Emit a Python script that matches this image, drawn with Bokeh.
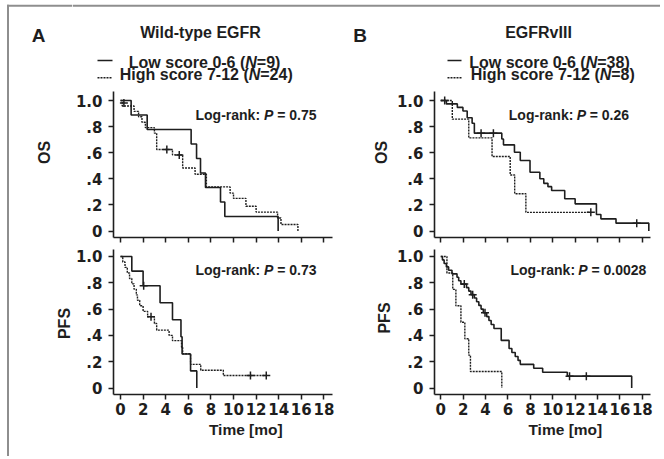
import math
from bokeh.plotting import figure
from bokeh.models import Range1d, FixedTicker, CustomJSTickFormatter, Label
from bokeh.layouts import column, row
from bokeh.embed import file_html
from bokeh.resources import INLINE
from bokeh.core.properties import value

# ---------------- data ----------------
x_ticks = [0, 2, 4, 6, 8, 10, 12, 14, 16, 18]
y_ticks = [0, 0.2, 0.4, 0.6, 0.8, 1.0]

panel_letters = ["A", "B"]
panel_titles = ["Wild-type EGFR", "EGFRvIII"]
legend_low_prefix = "Low score 0-6 ("
legend_high_prefix = "High score 7-12 ("
legend_low_n = ["=9)", "=38)"]
legend_high_n = ["=24)", "=8)"]
p_values_os = ["= 0.75", "= 0.26"]
p_values_pfs = ["= 0.73", "= 0.0028"]
ylabels = ["OS", "PFS"]
xlabel = "Time [mo]"

# Wild-type EGFR, OS
a_os_low_t = [0, 0.94, 2.36, 6.25, 6.73, 7.08, 7.52, 8.85, 9.23, 13.95]
a_os_low_s = [1.0, 0.889, 0.778, 0.667, 0.556, 0.444, 0.333, 0.222, 0.111, 0.0]
a_os_low_ct, a_os_low_cs = [], []
a_os_high_t = [0, 0.15, 1.2, 1.6, 1.9, 2.2, 3.0, 3.2, 4.6, 5.5, 6.6, 7.6, 9.7, 10.0, 11.1, 12.0, 13.9, 14.2, 15.7]
a_os_high_s = [1.0, 0.958, 0.917, 0.875, 0.833, 0.792, 0.75, 0.625, 0.583, 0.483, 0.435, 0.338, 0.29, 0.25, 0.19, 0.145, 0.10, 0.05, 0.0]
a_os_high_ct = [0.3, 4.1, 5.2]
a_os_high_cs = [0.98, 0.625, 0.583]

# Wild-type EGFR, PFS
a_pfs_low_t = [0, 1.0, 2.0, 3.5, 4.6, 5.35, 5.45, 6.2, 6.75]
a_pfs_low_s = [1.0, 0.889, 0.778, 0.648, 0.519, 0.39, 0.259, 0.13, 0.0]
a_pfs_low_ct = [2.05]
a_pfs_low_cs = [0.778]
a_pfs_high_t = [0, 0.2, 0.4, 0.6, 0.8, 1.0, 1.2, 1.4, 1.5, 1.7, 2.0, 2.4, 3.0, 3.2, 4.3, 4.6, 5.4, 5.5, 6.2, 7.1, 9.1, 12.9]
a_pfs_high_s = [1.0, 0.958, 0.917, 0.875, 0.833, 0.792, 0.75, 0.708, 0.667, 0.625, 0.583, 0.542, 0.49, 0.44, 0.40, 0.36, 0.31, 0.26, 0.18, 0.135, 0.095, 0.095]
a_pfs_high_ct = [2.7, 11.5, 12.9]
a_pfs_high_cs = [0.542, 0.095, 0.095]

# EGFRvIII, OS
b_os_low_t = [0, 0.5, 1.48, 1.98, 2.36, 2.8, 3.0, 5.45, 5.6, 6.58, 7.1, 7.97, 8.85, 9.2, 9.57, 9.9, 11.07, 12.0, 13.9, 14.3, 15.65, 18.58]
b_os_low_s = [1.0, 0.974, 0.947, 0.92, 0.868, 0.826, 0.75, 0.705, 0.66, 0.604, 0.54, 0.45, 0.40, 0.365, 0.34, 0.31, 0.247, 0.208, 0.126, 0.093, 0.06, 0.0]
b_os_low_ct = [0.35, 3.6, 4.7, 17.5]
b_os_low_cs = [1.0, 0.75, 0.75, 0.06]
b_os_high_t = [0, 1.03, 2.5, 4.58, 6.2, 6.6, 7.6, 13.4]
b_os_high_s = [1.0, 0.857, 0.714, 0.571, 0.429, 0.286, 0.143, 0.143]
b_os_high_ct = [13.4]
b_os_high_cs = [0.143]

# EGFRvIII, PFS
b_pfs_low_t = [0, 0.15, 0.3, 0.5, 0.7, 1.0, 1.45, 1.6, 1.8, 2.3, 2.5, 2.7, 3.0, 3.2, 3.4, 3.6, 3.8, 4.1, 4.3, 4.5, 4.75, 5.4, 6.1, 6.35, 6.65, 6.9, 7.1, 8.3, 9.1, 11.3, 17.05]
b_pfs_low_s = [1.0, 0.974, 0.947, 0.921, 0.895, 0.868, 0.842, 0.816, 0.79, 0.763, 0.737, 0.71, 0.684, 0.656, 0.628, 0.60, 0.572, 0.543, 0.513, 0.483, 0.453, 0.362, 0.30, 0.27, 0.24, 0.21, 0.18, 0.15, 0.12, 0.09, 0.0]
b_pfs_low_ct = [2.1, 2.85, 3.95, 11.5, 13.0]
b_pfs_low_cs = [0.79, 0.71, 0.572, 0.09, 0.09]
b_pfs_high_t = [0, 0.55, 1.07, 1.35, 1.8, 2.15, 2.5, 2.65, 5.45]
b_pfs_high_s = [1.0, 0.875, 0.75, 0.625, 0.5, 0.375, 0.25, 0.125, 0.0]
b_pfs_high_ct, b_pfs_high_cs = [], []

# ---------------- style ----------------
INK = "#1e1e1e"
GRAY = "#8e8e8e"
SANS = "Liberation Sans"
TICKFONT = "DejaVu Sans"
DOT = "2 1"
# Arial-bold em widths used to place the italic pieces
EM = {"Low score 0-6 (": 7.281, "High score 7-12 (": 8.058, "N": 0.722,
      "Log-rank: ": 4.889, "P ": 0.945}

OS_YR = (-0.0498, 1.069)
PFS_YR = (-0.0494, 1.0532)
A_XR = (-0.62, 18.76)
B_XR = (-0.56, 18.73)

# page-pixel layout (page origin = top-left of the window)
PAGE_W, PAGE_H = 660, 456
LEFT_W = 72
HDR_H = 86
OS_H = 161
PFS_H = 173
COLA_X0, COLA_X1 = 72, 338
MID_X0, MID_X1 = 338, 393
COLB_X0, COLB_X1 = 393, 660

A_OS_FR = (113, 332, 91, 237)
A_PFS_FR = (113, 332, 249, 394)
B_OS_FR = (432, 650, 91, 237)
B_PFS_FR = (432, 650, 249, 394)


def strip(x0, x1, y0, y1):
    f = figure(width=int(x1 - x0), height=int(y1 - y0), x_range=Range1d(x0, x1),
               y_range=Range1d(y1, y0), output_backend="svg", toolbar_location=None,
               tools="", x_axis_type=None, y_axis_type=None, min_border=0)
    f.outline_line_color = None
    f.background_fill_color = "white"
    return f


def panel(x0, x1, y0, y1, frame, xr, yr, xlabels):
    left, right, top, bottom = frame
    p = figure(width=x1 - x0, height=y1 - y0, x_range=Range1d(*xr), y_range=Range1d(*yr),
               output_backend="svg", toolbar_location=None, tools="",
               min_border_left=left - x0, min_border_right=x1 - right,
               min_border_top=top - y0, min_border_bottom=y1 - bottom)
    p.outline_line_color = None
    p.grid.visible = False
    for ax in (p.xaxis[0], p.yaxis[0]):
        ax.axis_line_width = 1.6
        ax.axis_line_color = INK
        ax.major_tick_line_width = 1.5
        ax.major_tick_line_color = INK
        ax.major_tick_out = 5
        ax.major_tick_in = 0
        ax.minor_tick_line_color = None
        ax.major_label_text_font = TICKFONT
        ax.major_label_text_font_style = "bold"
        ax.major_label_text_font_size = "15px"
        ax.major_label_text_color = INK
    p.xaxis.ticker = FixedTicker(ticks=x_ticks)
    p.yaxis.ticker = FixedTicker(ticks=y_ticks)
    p.yaxis.major_label_standoff = 6
    p.yaxis.formatter = CustomJSTickFormatter(code="""
        if (Math.abs(tick) < 1e-9) return "0";
        if (Math.abs(tick - 1) < 1e-9) return "1.0";
        return "." + Math.round(tick * 10);
    """)
    if xlabels:
        p.xaxis.major_label_standoff = 3
    else:
        p.xaxis.major_label_standoff = 0
        p.xaxis.major_label_text_font_size = "0px"
        p.xaxis.formatter = CustomJSTickFormatter(code="return '';")
    return p


def curves(p, lt, ls, lct, lcs, ht, hs, hct, hcs):
    p.step(lt, ls, mode="after", line_color=INK, line_width=1.6)
    p.step(ht, hs, mode="after", line_color=INK, line_width=1.4, line_dash=DOT)
    if lct:
        p.scatter(lct, lcs, marker="cross", size=8, line_color=INK, line_width=1.5)
    if hct:
        p.scatter(hct, hcs, marker="cross", size=8, line_color=INK, line_width=1.5)


def mapper(frame, xr, yr):
    left, right, top, bottom = frame

    def f(px, py):
        x = xr[0] + (px - left) / (right - left) * (xr[1] - xr[0])
        y = yr[1] - (py - top) / (bottom - top) * (yr[1] - yr[0])
        return x, y
    return f


def logrank(p, m, px, py, pval):
    fs = 14
    x0, y0 = m(px, py)
    x1, _ = m(px + EM["Log-rank: "] * fs, py)
    x2, _ = m(px + (EM["Log-rank: "] + EM["P "]) * fs, py)
    for x, t, st in ((x0, "Log-rank:", "bold"), (x1, "P", "bold italic"), (x2, pval, "bold")):
        p.add_layout(Label(x=x, y=y0, text=t, text_font=SANS, text_font_style=st,
                           text_font_size=f"{fs}px", text_color=INK,
                           text_align="left", text_baseline="middle"))


def txt(f, x, y, t, size, style="bold", align="left", angle=0.0):
    f.text(x=[x], y=[y], text=[t], angle=angle, text_font=value(SANS), text_font_style=style,
           text_font_size=size, text_color=INK, text_align=align, text_baseline="middle")


# ---------------- panels ----------------
a_os = panel(COLA_X0, COLA_X1, HDR_H, HDR_H + OS_H, A_OS_FR, A_XR, OS_YR, False)
a_pfs = panel(COLA_X0, COLA_X1, HDR_H + OS_H, HDR_H + OS_H + PFS_H, A_PFS_FR, A_XR, PFS_YR, True)
b_os = panel(COLB_X0, COLB_X1, HDR_H, HDR_H + OS_H, B_OS_FR, B_XR, OS_YR, False)
b_pfs = panel(COLB_X0, COLB_X1, HDR_H + OS_H, HDR_H + OS_H + PFS_H, B_PFS_FR, B_XR, PFS_YR, True)

curves(a_os, a_os_low_t, a_os_low_s, a_os_low_ct, a_os_low_cs,
       a_os_high_t, a_os_high_s, a_os_high_ct, a_os_high_cs)
curves(a_pfs, a_pfs_low_t, a_pfs_low_s, a_pfs_low_ct, a_pfs_low_cs,
       a_pfs_high_t, a_pfs_high_s, a_pfs_high_ct, a_pfs_high_cs)
curves(b_os, b_os_low_t, b_os_low_s, b_os_low_ct, b_os_low_cs,
       b_os_high_t, b_os_high_s, b_os_high_ct, b_os_high_cs)
curves(b_pfs, b_pfs_low_t, b_pfs_low_s, b_pfs_low_ct, b_pfs_low_cs,
       b_pfs_high_t, b_pfs_high_s, b_pfs_high_ct, b_pfs_high_cs)

logrank(a_os, mapper(A_OS_FR, A_XR, OS_YR), 195, 114.5, p_values_os[0])
logrank(b_os, mapper(B_OS_FR, B_XR, OS_YR), 507, 114.5, p_values_os[1])
logrank(a_pfs, mapper(A_PFS_FR, A_XR, PFS_YR), 195, 269, p_values_pfs[0])
logrank(b_pfs, mapper(B_PFS_FR, B_XR, PFS_YR), 508.7, 269, p_values_pfs[1])

# ---------------- strips (page-pixel coordinates) ----------------
left = strip(0, LEFT_W, 0, PAGE_H)
left.segment(x0=[7.5], y0=[4.3], x1=[7.5], y1=[PAGE_H], line_color=GRAY, line_width=2)
left.segment(x0=[6.5], y0=[5.3], x1=[LEFT_W], y1=[5.3], line_color=GRAY, line_width=2)
txt(left, 38, 35, panel_letters[0], "19px", align="center")
txt(left, 43.7, 152, ylabels[0], "16px", align="center", angle=math.pi / 2)
txt(left, 64, 323, ylabels[1], "16px", align="center", angle=math.pi / 2)

hdr = strip(LEFT_W, PAGE_W, 0, HDR_H)
hdr.segment(x0=[LEFT_W], y0=[5.3], x1=[PAGE_W], y1=[5.3], line_color=GRAY, line_width=2)
txt(hdr, 359.5, 34.6, panel_letters[1], "19px", align="center")
txt(hdr, 200, 31.5, panel_titles[0], "16px", align="center")
txt(hdr, 538, 31.5, panel_titles[1], "16px", align="center")
hdr.segment(x0=[97, 447], y0=[60, 60], x1=[112, 461], y1=[60, 60], line_color=INK, line_width=1.6)
hdr.segment(x0=[97, 447], y0=[77.3, 77.3], x1=[112, 461], y1=[77.3, 77.3], line_color=INK,
            line_width=1.4, line_dash=DOT)
FS = 16
for i, (lx_low, lx_high) in enumerate([(128.3, 119.3), (468.7, 470.3)]):
    for lft, mid_y, prefix, tail in ((lx_low, 62, legend_low_prefix, legend_low_n[i]),
                                     (lx_high, 74, legend_high_prefix, legend_high_n[i])):
        xn = lft + EM[prefix] * FS
        xt = xn + EM["N"] * FS
        txt(hdr, lft, mid_y, prefix, f"{FS}px")
        txt(hdr, xn, mid_y, "N", f"{FS}px", style="bold italic")
        txt(hdr, xt, mid_y, tail, f"{FS}px")

mid = strip(MID_X0, MID_X1, HDR_H, PAGE_H)
txt(mid, 380.5, 152, ylabels[0], "16px", align="center", angle=math.pi / 2)
txt(mid, 383.5, 317.5, ylabels[1], "16px", align="center", angle=math.pi / 2)

y_t0 = HDR_H + OS_H + PFS_H
time_a = strip(COLA_X0, COLA_X1, y_t0, PAGE_H)
txt(time_a, 232.7, 428.5, xlabel, "15.5px", align="center")
time_b = strip(COLB_X0, COLB_X1, y_t0, PAGE_H)
txt(time_b, 554.7, 428.5, xlabel, "15.5px", align="center")

layout = row(
    left,
    column(
        hdr,
        row(column(a_os, a_pfs, time_a), mid, column(b_os, b_pfs, time_b)),
    ),
)

open("out.html", "w").write(file_html(layout, INLINE))
